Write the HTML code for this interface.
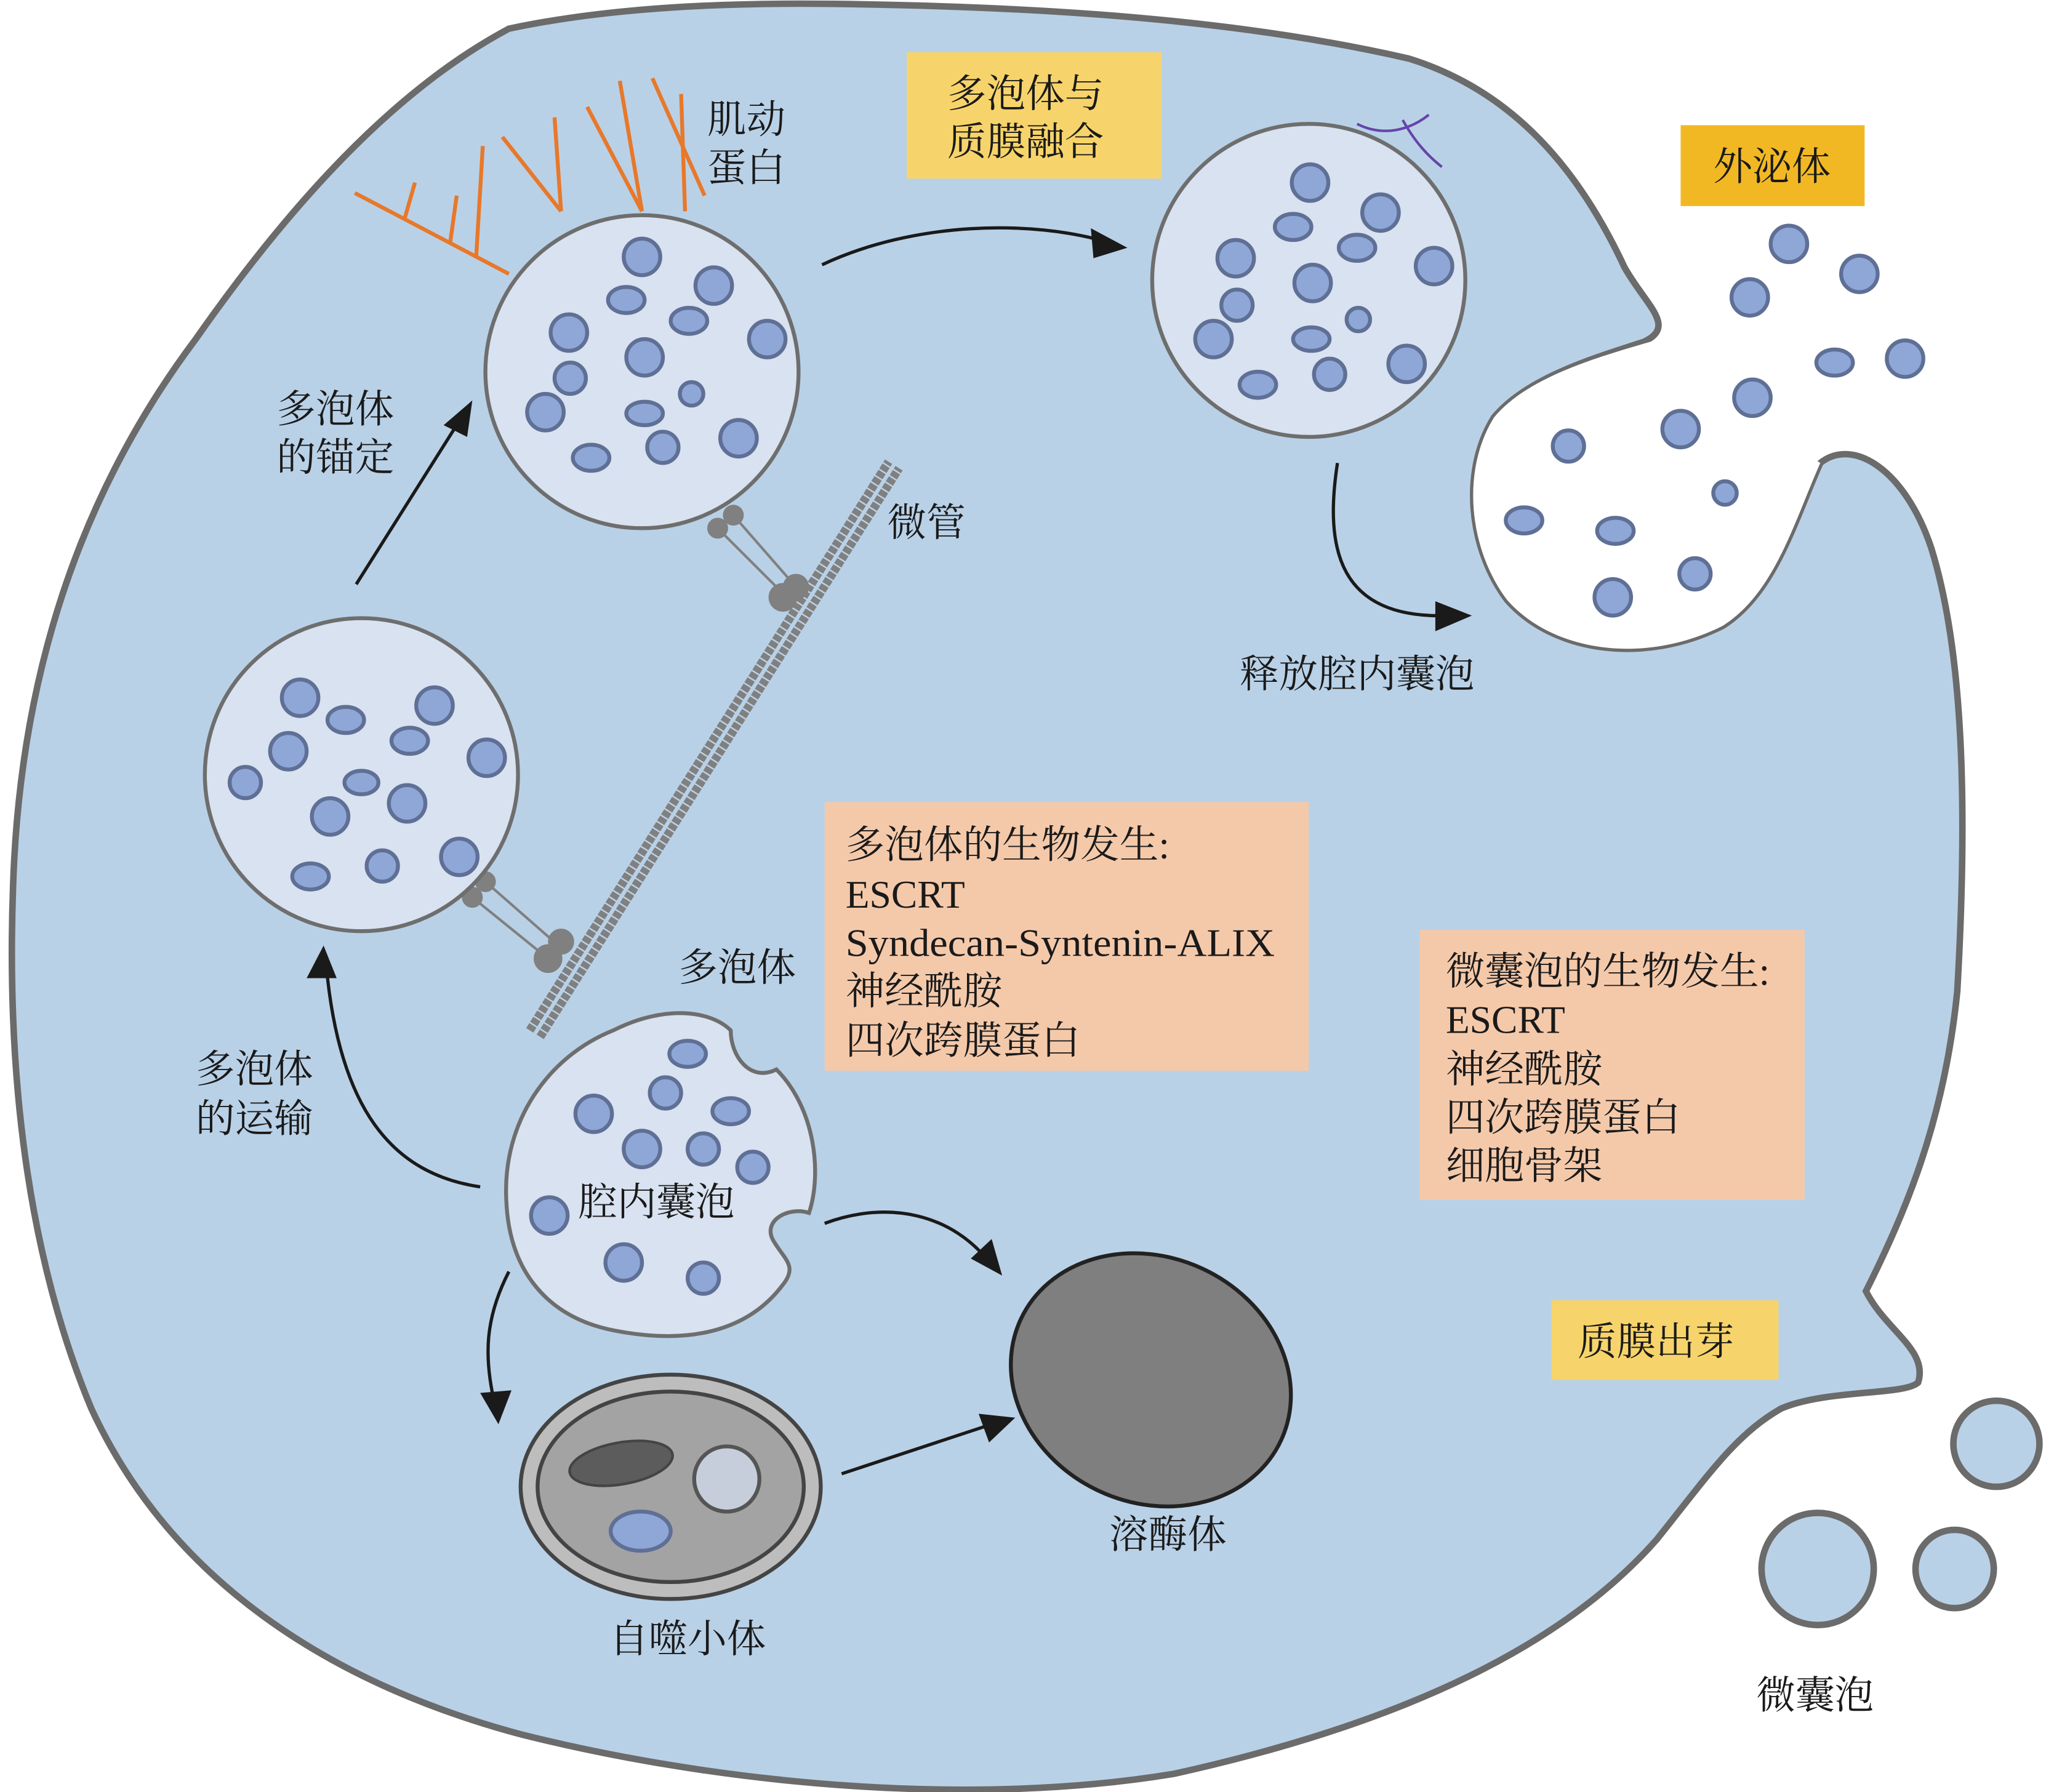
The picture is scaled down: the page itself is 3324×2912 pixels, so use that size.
<!DOCTYPE html>
<html><head><meta charset="utf-8"><style>
html,body{margin:0;padding:0;background:#fff}
svg{display:block}
text{font-family:"Liberation Serif","Noto Serif CJK SC","Noto Sans CJK SC",serif;font-size:30px;fill:#1a1a1a}
</style></head><body>
<svg width="3324" height="2912" viewBox="0 0 1568 1374" preserveAspectRatio="none" xmlns="http://www.w3.org/2000/svg">
<rect width="1568" height="1374" fill="#fff"/>
<!-- cell -->
<path d="M390,22 C470,5 560,2 640,3 C800,5 950,15 1080,45 C1160,70 1210,130 1245,205 C1262,235 1285,250 1260,262 C1220,275 1170,290 1145,320 C1120,360 1125,420 1155,460 C1190,500 1260,510 1320,480 C1360,455 1375,400 1395,355 C1420,335 1460,360 1480,420 C1505,500 1508,620 1500,760 C1490,860 1460,930 1430,990 C1445,1020 1478,1035 1470,1060 C1460,1070 1400,1065 1365,1080 C1330,1100 1310,1130 1270,1180 C1200,1260 1080,1320 900,1360 C750,1385 560,1370 400,1330 C250,1290 130,1210 70,1080 C20,960 5,820 10,680 C15,520 60,380 150,260 C220,160 300,70 390,22 Z" fill="#b9d1e7" stroke="#6b6b6b" stroke-width="5"/>
<path d="M1265,262 C1220,275 1170,290 1145,320 C1120,360 1125,420 1155,460 C1190,500 1260,510 1320,480 C1360,455 1375,400 1395,355" fill="#fff" stroke="none"/>
<!-- actin -->
<g stroke="#e8782a" stroke-width="3" fill="none">
<path d="M272,148 L390,210 M310,168 L318,140 M345,186 L350,150 M365,196 L370,112 M385,105 L430,162 M425,90 L430,162 M450,82 L492,162 M475,62 L492,162 M500,60 L540,150 M522,72 L525,162"/>
</g>
<!-- microtubule -->
<g stroke="#808080" fill="none" stroke-width="6.5" stroke-dasharray="4.5 1.2">
<line x1="406" y1="790" x2="681" y2="354"/>
<line x1="414" y1="795" x2="689" y2="359"/>
</g>
<!-- motors -->
<g stroke="#808080" stroke-width="2" fill="#808080">
<line x1="550" y1="405" x2="600" y2="455"/><line x1="562" y1="395" x2="610" y2="450"/>
<circle cx="550" cy="405" r="7"/><circle cx="562" cy="395" r="7"/><circle cx="600" cy="458" r="10"/><circle cx="610" cy="450" r="9"/>
<line x1="362" y1="688" x2="420" y2="735"/><line x1="372" y1="676" x2="428" y2="725"/>
<circle cx="362" cy="688" r="7"/><circle cx="372" cy="676" r="7"/><circle cx="420" cy="735" r="10"/><circle cx="430" cy="722" r="9"/>
</g>
<!-- MVBs -->
<g fill="#d8e2f0" stroke="#6e6e6e" stroke-width="3">
<circle cx="492" cy="285" r="120"/>
<circle cx="1003" cy="215" r="120"/>
<circle cx="277" cy="594" r="120"/>
<path d="M470,790 C510,770 545,775 560,790 C560,810 575,830 595,820 C625,850 630,900 620,930 C605,925 585,935 592,950 C600,965 612,970 600,985 C570,1025 520,1030 470,1020 C420,1010 390,975 388,920 C385,860 420,810 470,790 Z"/>
</g>
<!-- ILVs -->
<g fill="#8ea7d6" stroke="#5f6f95" stroke-width="3">
<circle cx="492" cy="197" r="14"/><circle cx="547" cy="219" r="14"/><ellipse cx="480" cy="230" rx="14" ry="10"/><circle cx="436" cy="255" r="14"/><ellipse cx="528" cy="246" rx="14" ry="10"/><circle cx="588" cy="260" r="14"/><circle cx="494" cy="274" r="14"/><circle cx="437" cy="290" r="12"/><circle cx="530" cy="302" r="9"/><ellipse cx="494" cy="317" rx="14" ry="9"/><circle cx="418" cy="316" r="14"/><circle cx="566" cy="336" r="14"/><circle cx="508" cy="343" r="12"/><ellipse cx="453" cy="351" rx="14" ry="10"/>
<circle cx="1004" cy="140" r="14"/><circle cx="1058" cy="163" r="14"/><ellipse cx="991" cy="174" rx="14" ry="10"/><ellipse cx="1040" cy="190" rx="14" ry="10"/><circle cx="947" cy="198" r="14"/><circle cx="1099" cy="204" r="14"/><circle cx="1006" cy="217" r="14"/><circle cx="948" cy="234" r="12"/><circle cx="1041" cy="245" r="9"/><ellipse cx="1005" cy="260" rx="14" ry="9"/><circle cx="930" cy="260" r="14"/><circle cx="1078" cy="279" r="14"/><circle cx="1019" cy="287" r="12"/><ellipse cx="964" cy="295" rx="14" ry="10"/>
<circle cx="230" cy="535" r="14"/><circle cx="333" cy="541" r="14"/><ellipse cx="265" cy="552" rx="14" ry="10"/><ellipse cx="314" cy="568" rx="14" ry="10"/><circle cx="221" cy="576" r="14"/><circle cx="373" cy="581" r="14"/><ellipse cx="277" cy="600" rx="13" ry="9"/><circle cx="188" cy="600" r="12"/><circle cx="312" cy="616" r="14"/><circle cx="253" cy="626" r="14"/><circle cx="352" cy="657" r="14"/><circle cx="293" cy="664" r="12"/><ellipse cx="238" cy="672" rx="14" ry="10"/>
<ellipse cx="527" cy="808" rx="14" ry="10"/><circle cx="510" cy="838" r="12"/><circle cx="455" cy="854" r="14"/><ellipse cx="560" cy="852" rx="14" ry="10"/><circle cx="492" cy="881" r="14"/><circle cx="539" cy="881" r="12"/><circle cx="577" cy="895" r="12"/><circle cx="421" cy="932" r="14"/><circle cx="478" cy="968" r="14"/><circle cx="539" cy="980" r="12"/>
<circle cx="1371" cy="187" r="14" /><circle cx="1425" cy="210" r="14"/><circle cx="1341" cy="228" r="14"/><ellipse cx="1406" cy="278" rx="14" ry="10"/><circle cx="1460" cy="275" r="14"/><circle cx="1343" cy="305" r="14"/><circle cx="1288" cy="329" r="14"/><circle cx="1202" cy="342" r="12"/><circle cx="1322" cy="378" r="9"/><ellipse cx="1168" cy="399" rx="14" ry="10"/><ellipse cx="1238" cy="407" rx="14" ry="10"/><circle cx="1299" cy="440" r="12"/><circle cx="1236" cy="458" r="14"/>
</g>
<path d="M1040,95 C1060,105 1080,100 1095,88 M1075,92 C1085,110 1095,120 1105,128" stroke="#6644aa" stroke-width="2" fill="none"/>
<!-- autophagosome -->
<ellipse cx="514" cy="1140" rx="115" ry="86" fill="#bdbdbd" stroke="#444" stroke-width="3"/>
<ellipse cx="514" cy="1140" rx="102" ry="73" fill="#a3a3a3" stroke="#444" stroke-width="3"/>
<ellipse cx="476" cy="1122" rx="40" ry="16" transform="rotate(-10 476 1122)" fill="#5c5c5c" stroke="#444" stroke-width="2"/>
<circle cx="557" cy="1134" r="25" fill="#c6cedb" stroke="#555" stroke-width="3"/>
<ellipse cx="491" cy="1174" rx="23" ry="15" fill="#8ea7d6" stroke="#5f6f95" stroke-width="3"/>
<!-- lysosome -->
<ellipse cx="882" cy="1058" rx="110" ry="94" transform="rotate(25 882 1058)" fill="#7f7f7f" stroke="#222" stroke-width="3"/>
<!-- microvesicles -->
<g fill="#b9d1e7" stroke="#6b6b6b" stroke-width="5">
<circle cx="1530" cy="1107" r="33"/><circle cx="1393" cy="1203" r="43"/><circle cx="1498" cy="1203" r="30"/>
</g>
<!-- arrows -->
<g stroke="#1a1a1a" stroke-width="2.5" fill="none">
<path d="M273,448 L355,318"/>
<path d="M630,203 C700,170 790,168 850,186"/>
<path d="M1025,355 C1015,420 1025,475 1110,472"/>
<path d="M368,910 C300,900 260,850 250,740"/>
<path d="M632,938 C680,920 730,930 760,970"/>
<path d="M390,975 C372,1010 370,1040 380,1080"/>
<path d="M645,1130 L760,1092"/>
</g>
<g fill="#1a1a1a">
<polygon points="362,307 340,326 358,335"/>
<polygon points="864,190 836,175 838,198"/>
<polygon points="1128,472 1100,461 1100,484"/>
<polygon points="248,725 235,750 258,750"/>
<polygon points="768,978 760,950 744,965"/>
<polygon points="382,1092 368,1068 392,1066"/>
<polygon points="778,1087 750,1084 758,1106"/>
</g>
<!-- boxes -->
<rect x="695" y="40" width="195" height="97" fill="#f7d46b"/>
<rect x="1288" y="96" width="141" height="62" fill="#f2b824"/>
<rect x="632" y="615" width="371" height="206" fill="#f4c9aa"/>
<rect x="1088" y="713" width="295" height="207" fill="#f4c9aa"/>
<rect x="1189" y="997" width="174" height="61" fill="#f7d46b"/>
<!-- text -->
<text x="726" y="82">多泡体与</text><text x="726" y="119">质膜融合</text>
<text x="1313" y="138">外泌体</text>
<text x="542" y="102">肌动</text><text x="542" y="139">蛋白</text>
<text x="212" y="324">多泡体</text><text x="212" y="361">的锚定</text>
<text x="680" y="411">微管</text>
<text x="950" y="527">释放腔内囊泡</text>
<text x="648" y="658">多泡体的生物发生:</text>
<text x="648" y="696">ESCRT</text>
<text x="648" y="733" textLength="329" lengthAdjust="spacingAndGlyphs">Syndecan-Syntenin-ALIX</text>
<text x="648" y="770">神经酰胺</text>
<text x="648" y="808">四次跨膜蛋白</text>
<text x="1108" y="755">微囊泡的生物发生:</text>
<text x="1108" y="792">ESCRT</text>
<text x="1108" y="830">神经酰胺</text>
<text x="1108" y="867">四次跨膜蛋白</text>
<text x="1108" y="904">细胞骨架</text>
<text x="520" y="752">多泡体</text>
<text x="150" y="830">多泡体</text><text x="150" y="868">的运输</text>
<text x="443" y="932">腔内囊泡</text>
<text x="1209" y="1039">质膜出芽</text>
<text x="850" y="1187">溶酶体</text>
<text x="467" y="1267">自噬小体</text>
<text x="1346" y="1310">微囊泡</text>
</svg>
</body></html>
